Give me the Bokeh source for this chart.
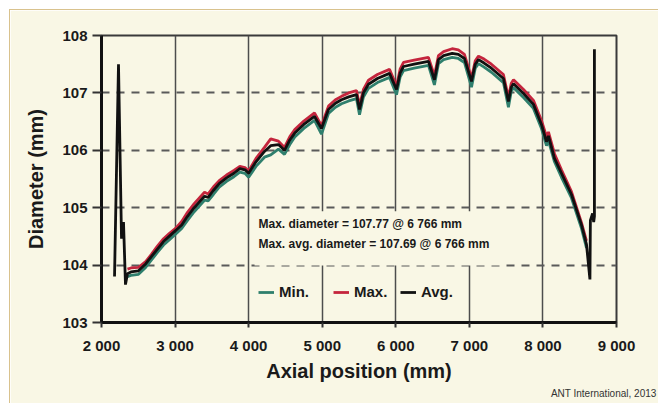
from bokeh.plotting import figure
from bokeh.models import Range1d, FixedTicker, Label, Legend, LegendItem, Title
from bokeh.embed import file_html
from bokeh.resources import INLINE

# ---- data ----
x_pos = [2353, 2400, 2503, 2600, 2680, 2760, 2843, 2920, 3006, 3090,
         3169, 3260, 3330, 3400, 3450, 3520, 3600, 3700, 3800, 3880,
         3950, 4000, 4100, 4215, 4300, 4405, 4487, 4560, 4627, 4750,
         4895, 4990, 5085, 5180, 5262, 5360, 5466, 5507, 5560, 5629,
         5750, 5915, 6010, 6060, 6105, 6250, 6444, 6525, 6580, 6650,
         6766, 6850, 6933, 7029, 7080, 7124, 7200, 7300, 7463, 7531,
         7570, 7600, 7736, 7871, 7980, 8048, 8075, 8157, 8252, 8388,
         8524, 8592]
avg_vals = [103.85, 103.88, 103.90, 104.02, 104.15, 104.28, 104.41, 104.50, 104.60, 104.70,
            104.85, 105.00, 105.10, 105.20, 105.18, 105.30, 105.42, 105.52, 105.60, 105.68,
            105.66, 105.60, 105.80, 105.98, 106.08, 106.10, 106.00, 106.18, 106.30, 106.45,
            106.59, 106.38, 106.71, 106.82, 106.88, 106.93, 106.97, 106.71, 107.00, 107.15,
            107.25, 107.34, 107.06, 107.35, 107.46, 107.50, 107.55, 107.23, 107.58, 107.65,
            107.69, 107.67, 107.60, 107.20, 107.50, 107.58, 107.52, 107.43, 107.25, 106.85,
            107.10, 107.16, 106.99, 106.80, 106.45, 106.15, 106.25, 105.86, 105.60, 105.23,
            104.70, 104.36]
max_vals = [103.93, 103.95, 103.96, 104.06, 104.19, 104.33, 104.46, 104.55, 104.64, 104.76,
            104.92, 105.07, 105.17, 105.27, 105.24, 105.36, 105.47, 105.57, 105.65, 105.72,
            105.70, 105.64, 105.86, 106.05, 106.20, 106.16, 106.05, 106.24, 106.36, 106.51,
            106.65, 106.43, 106.77, 106.88, 106.94, 107.00, 107.04, 106.78, 107.06, 107.22,
            107.32, 107.41, 107.12, 107.42, 107.53, 107.57, 107.62, 107.30, 107.65, 107.72,
            107.77, 107.75, 107.67, 107.26, 107.56, 107.64, 107.59, 107.50, 107.32, 106.92,
            107.17, 107.23, 107.06, 106.87, 106.52, 106.24, 106.32, 105.94, 105.66, 105.28,
            104.74, 104.42]
min_vals = [103.80, 103.82, 103.84, 103.96, 104.09, 104.22, 104.35, 104.44, 104.54, 104.64,
            104.78, 104.93, 105.03, 105.13, 105.12, 105.23, 105.36, 105.46, 105.54, 105.62,
            105.60, 105.53, 105.72, 105.88, 105.92, 106.02, 105.93, 106.10, 106.23, 106.38,
            106.52, 106.28, 106.64, 106.75, 106.81, 106.86, 106.90, 106.62, 106.93, 107.08,
            107.18, 107.27, 106.97, 107.28, 107.39, 107.43, 107.48, 107.14, 107.51, 107.58,
            107.62, 107.60, 107.53, 107.10, 107.43, 107.51, 107.45, 107.36, 107.18, 106.75,
            107.03, 107.09, 106.92, 106.73, 106.38, 106.08, 106.17, 105.80, 105.53, 105.17,
            104.64, 104.30]
# extra end readings of the average trace
avg_left_x = [2177, 2231, 2272, 2299, 2326]
avg_left = [103.80, 107.50, 104.46, 104.75, 103.66]
avg_right_x = [8639, 8645, 8675, 8690, 8700, 8700]
avg_right = [103.75, 104.78, 104.90, 104.75, 104.85, 107.76]

x_ticks = [2000, 3000, 4000, 5000, 6000, 7000, 8000, 9000]
x_tick_labels = ["2 000", "3 000", "4 000", "5 000", "6 000", "7 000", "8 000", "9 000"]
y_ticks = [103, 104, 105, 106, 107, 108]
dash_levels = [104, 105, 106, 107]

series_names = ["Min.", "Max.", "Avg."]
note_lines = ["Max. diameter = 107.77 @ 6 766 mm", "Max. avg. diameter = 107.69 @ 6 766 mm"]
credit = "ANT International, 2013"

# ---- styling ----
CREAM = "#f9f7e5"
FONT = "Liberation Sans"
C_MIN = "#2f7f6d"
C_MAX = "#c4253d"
C_AVG = "#111111"

p = figure(width=649, height=394, output_backend="svg", toolbar_location=None,
           x_range=Range1d(2000, 9000), y_range=Range1d(103, 108),
           min_border_left=91, min_border_right=43, min_border_top=25, min_border_bottom=82)
p.margin = (9, 0, 0, 9)
p.styles = {"border-top": "1px solid #d9c28d", "border-left": "1px solid #d9c28d"}
p.background_fill_color = CREAM
p.border_fill_color = CREAM
p.outline_line_color = "#3a3a3a"
p.outline_line_width = 2

# grids
p.xgrid.ticker = FixedTicker(ticks=x_ticks)
p.xgrid.grid_line_color = "#4d4d4d"
p.xgrid.grid_line_width = 1.5
p.ygrid.ticker = FixedTicker(ticks=dash_levels)
p.ygrid.grid_line_color = "#5a5a5a"
p.ygrid.grid_line_width = 2
p.ygrid.grid_line_dash = "8 7"

# axes
for ax in (p.xaxis[0], p.yaxis[0]):
    ax.axis_line_width = 3
    ax.axis_line_color = "#111111"
    ax.major_tick_line_width = 2
    ax.major_tick_line_color = "#333333"
    ax.major_tick_in = 0
    ax.minor_tick_line_color = None
    ax.major_label_text_font = FONT
    ax.major_label_text_font_style = "bold"
    ax.major_label_text_font_size = "15px"
    ax.major_label_text_color = "#1a1a1a"
    ax.axis_label_text_font = FONT
    ax.axis_label_text_font_style = "bold"
    ax.axis_label_text_font_size = "20px"
    ax.axis_label_text_color = "#1a1a1a"

p.xaxis.ticker = FixedTicker(ticks=x_ticks)
p.xaxis.major_label_overrides = {t: l for t, l in zip(x_ticks, x_tick_labels)}
p.xaxis.major_tick_out = 5
p.xaxis.major_label_standoff = 9
p.xaxis.axis_label = "Axial position (mm)"
p.xaxis.axis_label_standoff = 3

p.yaxis.ticker = FixedTicker(ticks=y_ticks)
p.yaxis.major_tick_out = 9
p.yaxis.major_label_standoff = 5
p.yaxis.axis_label = "Diameter (mm)"
p.yaxis.axis_label_standoff = 12

# lines
r_min = p.line(x_pos, min_vals, line_color=C_MIN, line_width=2.8)
r_max = p.line(x_pos, max_vals, line_color=C_MAX, line_width=2.8)
r_avg = p.line(avg_left_x + x_pos + avg_right_x, avg_left + avg_vals + avg_right,
               line_color=C_AVG, line_width=2.8)

# legend: one entry per box so each sits where it does in the reference
legend_x = [157, 232, 299]
for name, rend, lx in zip(series_names, [r_min, r_max, r_avg], legend_x):
    lg = Legend(items=[LegendItem(label=name, renderers=[rend])],
                orientation="horizontal", location=(lx, 22),
                background_fill_alpha=0, border_line_alpha=0,
                padding=0, margin=0, spacing=0, glyph_width=16, glyph_height=14,
                label_standoff=5, label_height=14,
                label_text_font=FONT, label_text_font_style="bold",
                label_text_font_size="15px", label_text_color="#1a1a1a")
    p.add_layout(lg)

note = Label(x=4080, y=104.94, text="\n".join(note_lines),
             text_font=FONT, text_font_style="bold", text_font_size="12px",
             text_color="#1a1a1a", text_baseline="top", text_align="left",
             text_line_height=1.45,
             background_fill_color=CREAM, padding=(4, 14, 6, 14))
p.add_layout(note)

cred = Title(text=credit, align="right", offset=-40, standoff=2,
             text_font=FONT, text_font_size="10px", text_font_style="normal",
             text_color="#333333")
p.add_layout(cred, "below")

open("out.html", "w").write(file_html(p, INLINE))
